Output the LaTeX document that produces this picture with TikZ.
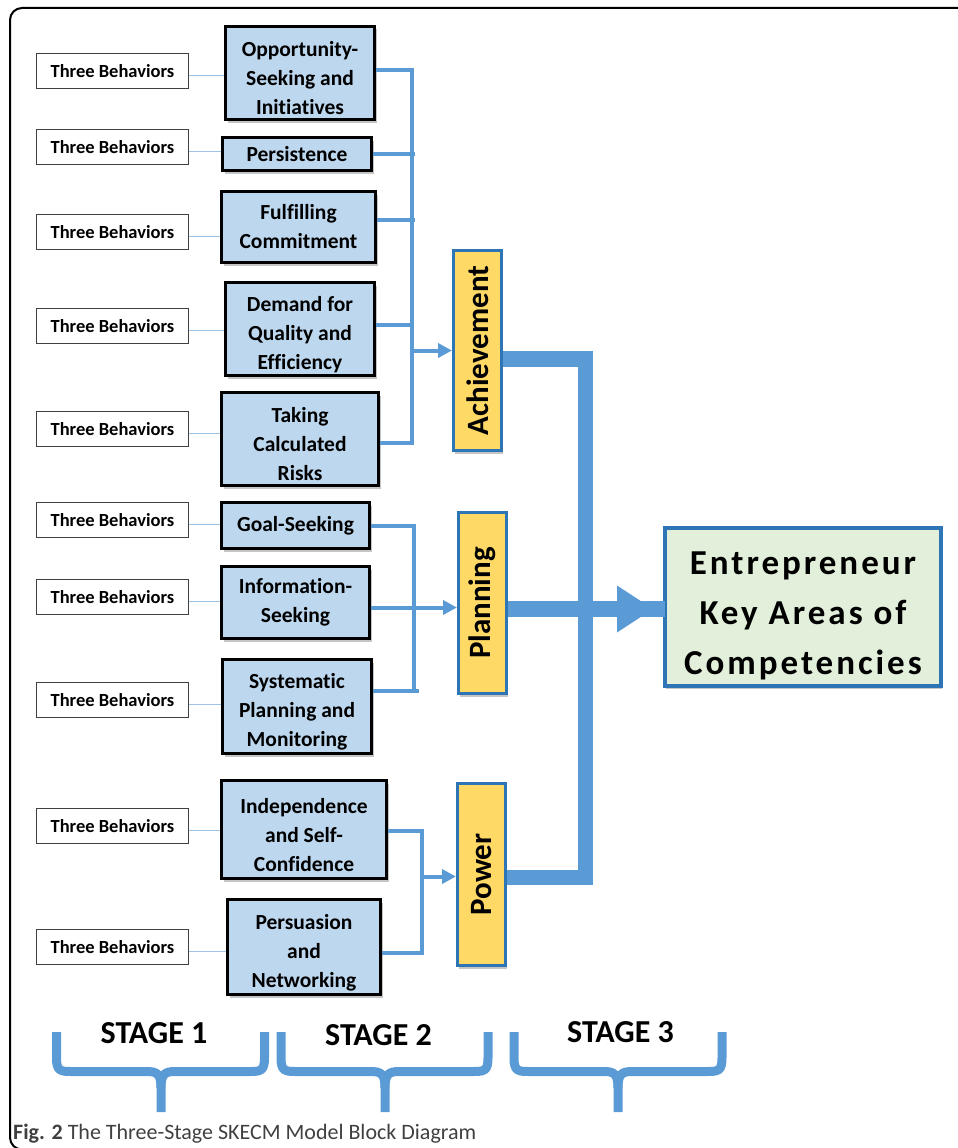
\documentclass[tikz,border=0pt]{standalone}
\usepackage{fontspec}
\setmainfont{Carlito}[Ligatures=CommonOff]
\newfontfamily\spacedfont{Carlito}[LetterSpace=8.5,Ligatures=CommonOff]
\usetikzlibrary{arrows.meta,shadows,calc}
\definecolor{mblue}{HTML}{5B9BD5}
\definecolor{lblue}{HTML}{9DC3E6}
\definecolor{boxblue}{HTML}{BDD7EE}
\definecolor{yfill}{HTML}{FFD966}
\definecolor{dblue}{HTML}{2E75B6}
\definecolor{gfill}{HTML}{E2EFDA}
\begin{document}
\begin{tikzpicture}[x=1pt,y=-1pt,
  behav/.style={draw=black!75, line width=1.2pt, fill=white, minimum width=152pt, minimum height=35pt, inner sep=0pt, font=\fontsize{18.5}{22}\selectfont\bfseries},
  compbox/.style={draw=black, line width=2.8pt, fill=boxblue, inner sep=0pt, align=center, font=\fontsize{21.5}{29}\selectfont\bfseries, drop shadow={shadow xshift=2pt, shadow yshift=-3pt, fill=black!45}},
  areabox/.style={draw=dblue, line width=3pt, fill=yfill, inner sep=0pt, minimum width=48pt, drop shadow={shadow xshift=1pt, shadow yshift=-3pt, fill=black!45}},
  areatxt/.style={rotate=90, inner sep=0pt, font=\fontsize{31}{36}\selectfont\bfseries},
  finalbox/.style={draw=dblue, line width=4pt, fill=gfill, inner sep=0pt, align=center, font=\spacedfont\fontsize{35}{50}\selectfont\bfseries, drop shadow={shadow xshift=1pt, shadow yshift=-3pt, fill=black!45}},
  feed/.style={draw=lblue, line width=1.3pt},
  conn/.style={draw=mblue, line width=4pt, line join=miter},
  tip/.style={-{Triangle[length=14pt,width=14pt]}},
  bigline/.style={draw=mblue, line width=15.5pt, line join=miter},
  bracepath/.style={draw=mblue, line width=9pt, line cap=butt},
  stagetxt/.style={inner sep=0pt, font=\fontsize{32}{36}\selectfont\bfseries}
]
\useasboundingbox (0,0) rectangle (958,1148);
% outer frame
\draw[line width=2pt, rounded corners=12pt] (10,8) rectangle (1000,1149.5);

% behaviour boxes
\node[behav] (w1) at (112.5,71) {Three Behaviors};
\node[behav] (w2) at (112.5,147) {Three Behaviors};
\node[behav] (w3) at (112.5,232) {Three Behaviors};
\node[behav] (w4) at (112.5,326) {Three Behaviors};
\node[behav] (w5) at (112.5,429) {Three Behaviors};
\node[behav] (w6) at (112.5,520) {Three Behaviors};
\node[behav] (w7) at (112.5,597) {Three Behaviors};
\node[behav] (w8) at (112.5,700) {Three Behaviors};
\node[behav] (w9) at (112.5,826) {Three Behaviors};
\node[behav] (w10) at (112.5,947) {Three Behaviors};

% competency boxes
\node[compbox, minimum width=149pt, minimum height=93pt] (b1) at (300,73) {\rule{0pt}{26pt}Opportunity-\\Seeking and\\Initiatives};
\node[compbox, minimum width=149pt, minimum height=33pt] (b2) at (297,154) {Persistence};
\node[compbox, minimum width=154pt, minimum height=71pt] (b3) at (298.5,227) {Fulfilling\\Commitment};
\node[compbox, minimum width=149pt, minimum height=93pt] (b4) at (300,329) {\rule{0pt}{26pt}Demand for\\Quality and\\Efficiency};
\node[compbox, minimum width=157pt, minimum height=93pt] (b5) at (300,439) {\rule{0pt}{26pt}Taking\\Calculated\\Risks};
\node[compbox, minimum width=148pt, minimum height=46pt] (b6) at (295.5,525.5) {Goal-Seeking};
\node[compbox, minimum width=148pt, minimum height=72pt] (b7) at (295.5,602.5) {Information-\\Seeking};
\node[compbox, minimum width=149pt, minimum height=94pt] (b8) at (297,706.5) {\rule{0pt}{26pt}Systematic\\Planning and\\Monitoring};
\node[compbox, minimum width=165pt, minimum height=98pt] (b9) at (304,829.5) {\rule{0pt}{26pt}Independence\\and Self-\\Confidence};
\node[compbox, minimum width=153pt, minimum height=95pt] (b10) at (304,947) {\rule{0pt}{26pt}Persuasion\\and\\Networking};

% thin feeders
\foreach \i in {1,...,10}{
  \draw[feed] ($(w\i.east)+(0,4.5)$) -- ($(w\i.east -| b\i.west)+(0,4.5)$);
}

% area boxes
\node[areabox, minimum height=200pt] (ach) at (477.5,350.5) {};
\node[areatxt] (achT) at (ach) {Achievement};
\node[areabox, minimum height=181pt] (pla) at (482.5,603) {};
\node[areatxt] (plaT) at (pla) {Planning};
\node[areabox, minimum height=182pt] (pow) at (481.5,874.5) {};
\node[areatxt] (powT) at (pow) {Power};

% achievement bus
\coordinate (ab) at (412,0);
\draw[conn] ($(b1.east)+(0,-3)$) -| ($(ab |- b5.east)+(0,4)$) -- ($(b5.east)+(0,4)$);
\draw[conn] (b2.east) -- ($(b2.east -| ab)+(3,0)$);
\draw[conn] ($(b3.east)+(0,-7)$) -- ($(b3.east -| ab)+(3,-7)$);
\draw[conn] ($(b4.east)+(0,-4)$) -- ($(b4.east -| ab)+(0,-4)$);
\draw[conn,tip] (ab |- ach.west) -- (ach.west);

% planning bus
\coordinate (pb) at (414,0);
\draw[conn] (b6.east) -| ($(pb |- b8.east)+(0,-16)$) -- ($(b8.east)+(0,-16)$);
\draw[conn] ($(pb |- b8.east)+(0,-16)$) -- ($(pb |- b8.east)+(5,-16)$);
\draw[conn,tip] ($(b7.east)+(0,5)$) -- ($(b7.east -| pla.west)+(0,5)$);

% power bus
\coordinate (wb) at (421.5,0);
\draw[conn] ($(b9.east)+(0,1)$) -| ($(wb |- b10.east)+(0,6)$) -- ($(b10.east)+(0,6)$);
\draw[conn,tip] ($(wb |- pow.west)+(0,2)$) -- ($(pow.west)+(0,2)$);

% final box
\node[finalbox, minimum width=276pt, minimum height=158pt] (fin) at (803,607) {\rule{0pt}{40pt}Entrepreneur\\Key Areas of\\Competencies};

% thick connectors
\draw[bigline] ($(ach.east)+(0,8.5)$) -| ($(pow.east)+(78.5,3)$) -- ($(pow.east)+(0,3)$);
\draw[bigline] ($(pla.east)+(0,6)$) -- ($(fin.west |- pla.east)+(2,6)$);
\fill[mblue] ($(fin.west |- pla.east)+(-46,-17.5)$) -- ($(fin.west |- pla.east)+(-10,6)$) -- ($(fin.west |- pla.east)+(-46,29.5)$) -- cycle;

% stage braces
\foreach \xl/\xm/\xr/\n in {56.5/161/264.5/1, 281/385/488/2, 514/618/722/3}{
  \draw[bracepath] (\xl,1032) -- (\xl,1058) .. controls (\xl,1071) and (\xl+4,1071.5) .. (\xl+15,1071.5) -- (\xm-14,1071.5) .. controls (\xm-4,1071.5) and (\xm,1074) .. (\xm,1088) -- (\xm,1112);
  \draw[bracepath] (\xr,1032) -- (\xr,1058) .. controls (\xr,1071) and (\xr-4,1071.5) .. (\xr-15,1071.5) -- (\xm+14,1071.5) .. controls (\xm+4,1071.5) and (\xm,1074) .. (\xm,1088);
}
\node[stagetxt] (s1) at (154,1033) {STAGE 1};
\node[stagetxt] (s2) at (378.5,1035) {STAGE 2};
\node[stagetxt] (s3) at (620.5,1032) {STAGE 3};

% caption
\node[anchor=base west, inner sep=0pt, font=\fontsize{22}{26}\selectfont, text=black!75] (cap) at (13,1139) {\textbf{Fig. 2} The Three-Stage SKECM Model Block Diagram};
\end{tikzpicture}
\end{document}
